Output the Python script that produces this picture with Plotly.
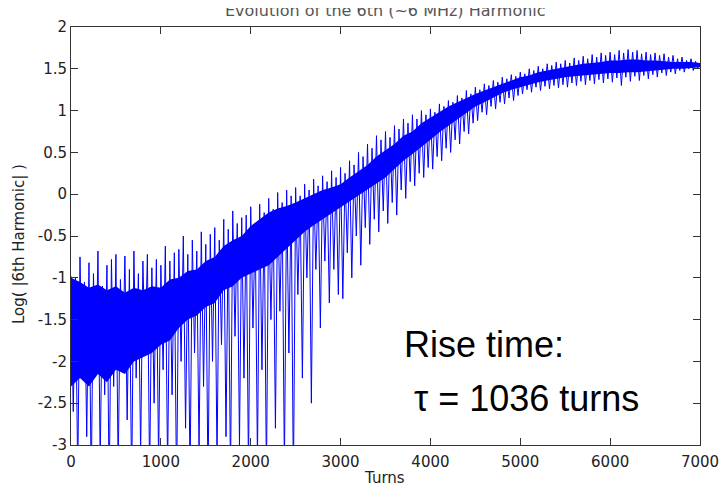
import numpy as np
import plotly.graph_objects as go

# Turn index sampled every 25 turns, 0..7000
turn_step = 25
turns = np.arange(0, 7001, turn_step)

# log10 |6th harmonic| (alternating crests / troughs)
log_amp = [
    # 0 - 475
    -0.98, -2.6, -1.0, -3.4, -0.75, -2.2, -1.05, -2.9, -0.82, -3.5,
    -0.95, -2.1, -0.68, -3.2, -1.1, -2.4, -0.85, -3.6, -0.78, -2.3,
    # 500 - 975
    -0.72, -3.3, -1.02, -2.0, -0.74, -2.7, -0.9, -3.5, -0.68, -2.2,
    -0.95, -3.1, -0.8, -1.9, -0.72, -3.4, -0.88, -2.5, -0.78, -3.2,
    # 1000 - 1475
    -0.85, -2.1, -0.62, -3.3, -0.8, -2.4, -0.7, -3.6, -0.66, -2.0,
    -0.5, -2.8, -0.72, -3.4, -0.55, -1.9, -0.68, -3.1, -0.45, -2.3,
    # 1500 - 1975
    -0.6, -3.5, -0.48, -2.0, -0.4, -3.2, -0.55, -1.8, -0.3, -2.9,
    -0.42, -3.4, -0.2, -1.7, -0.35, -3.0, -0.28, -2.2, -0.25, -3.3,
    # 2000 - 2475
    -0.15, -1.6, -0.35, -3.2, -0.12, -2.1, -0.22, -3.4, -0.05, -1.5,
    -0.18, -2.8, 0.02, -1.4, -0.1, -3.3, 0.05, -1.9, -0.02, -3.5,
    # 2500 - 2975
    0.08, -1.2, -0.02, -2.2, 0.12, -1.0, 0.05, -2.5, 0.18, -0.9,
    0.1, -1.6, 0.22, -0.8, 0.15, -1.3, 0.28, -0.9, 0.2, -1.2,
    # 3000 - 3475
    0.32, -1.25, 0.25, -0.7, 0.4, -1.0, 0.35, -0.5, 0.5, -0.85,
    0.45, -0.4, 0.6, -0.6, 0.55, -0.3, 0.7, -0.45, 0.65, -0.2,
    # 3500 - 3975
    0.75, -0.35, 0.68, -0.1, 0.82, -0.25, 0.78, 0.05, 0.9, -0.05,
    0.85, 0.15, 0.95, 0.1, 0.9, 0.25, 1.0, 0.2, 0.95, 0.32,
    # 4000 - 4475
    1.02, 0.3, 0.98, 0.45, 1.08, 0.4, 1.05, 0.55, 1.12, 0.5,
    1.1, 0.65, 1.18, 0.6, 1.15, 0.75, 1.24, 0.72, 1.2, 0.85,
    # 4500 - 4975
    1.28, 0.88, 1.25, 0.98, 1.32, 0.95, 1.3, 1.05, 1.36, 1.02,
    1.34, 1.1, 1.4, 1.08, 1.38, 1.15, 1.43, 1.12, 1.41, 1.18,
    # 5000 - 5475
    1.46, 1.2, 1.44, 1.25, 1.5, 1.22, 1.48, 1.28, 1.53, 1.24,
    1.5, 1.29, 1.56, 1.26, 1.54, 1.3, 1.58, 1.27, 1.56, 1.31,
    # 5500 - 5975
    1.6, 1.28, 1.57, 1.33, 1.63, 1.3, 1.6, 1.35, 1.65, 1.31,
    1.62, 1.36, 1.67, 1.32, 1.64, 1.37, 1.69, 1.33, 1.66, 1.38,
    # 6000 - 6475
    1.7, 1.34, 1.67, 1.39, 1.72, 1.3, 1.69, 1.4, 1.73, 1.35,
    1.7, 1.41, 1.72, 1.36, 1.68, 1.42, 1.7, 1.38, 1.67, 1.43,
    # 6500 - 6975
    1.69, 1.4, 1.66, 1.45, 1.68, 1.42, 1.64, 1.46, 1.66, 1.44,
    1.62, 1.48, 1.64, 1.46, 1.6, 1.5, 1.62, 1.48, 1.59, 1.51,
    # 7000
    1.56,
]

# Solid (densely oscillating) core of the trace, read every 100 turns
core_step = 100
core_turns = np.arange(0, 7001, core_step)
core_hi = [
    -1.0, -1.05, -1.12, -1.08, -1.15, -1.1, -1.18, -1.12, -1.15, -1.1,
    -1.12, -1.02, -1.0, -0.92, -0.9, -0.8, -0.75, -0.62, -0.55, -0.5,
    -0.38, -0.3, -0.22, -0.17, -0.14, -0.1, -0.05, 0.0, 0.05, 0.08,
    0.12, 0.2, 0.28, 0.35, 0.45, 0.52, 0.6, 0.7, 0.75, 0.85,
    0.92, 0.98, 1.05, 1.1, 1.15, 1.2, 1.24, 1.28, 1.32, 1.36,
    1.4, 1.42, 1.46, 1.48, 1.5, 1.52, 1.54, 1.56, 1.57, 1.58,
    1.6, 1.6, 1.61, 1.61, 1.6, 1.6, 1.59, 1.58, 1.58, 1.58,
    1.57,
]
core_lo = [
    -2.3, -2.2, -2.3, -2.15, -2.25, -2.1, -2.15, -2.0, -1.95, -1.9,
    -1.8, -1.75, -1.6, -1.5, -1.45, -1.35, -1.3, -1.15, -1.1, -1.0,
    -0.95, -0.9, -0.85, -0.75, -0.65, -0.55, -0.45, -0.37, -0.3, -0.22,
    -0.15, -0.08, -0.02, 0.05, 0.12, 0.2, 0.3, 0.4, 0.48, 0.56,
    0.65, 0.74, 0.82, 0.9, 0.98, 1.05, 1.1, 1.16, 1.21, 1.25,
    1.28, 1.31, 1.34, 1.36, 1.38, 1.4, 1.41, 1.42, 1.43, 1.44,
    1.45, 1.45, 1.46, 1.46, 1.47, 1.48, 1.49, 1.5, 1.5, 1.51,
    1.52,
]

x_ticks = [0, 1000, 2000, 3000, 4000, 5000, 6000, 7000]
x_tick_text = ["0", "1000", "2000", "3000", "4000", "5000", "6000", "7000"]
y_ticks = [2, 1.5, 1, 0.5, 0, -0.5, -1, -1.5, -2, -2.5, -3]
y_tick_text = ["2", "1.5", "1", "0.5", "0", "-0.5", "-1", "-1.5", "-2", "-2.5", "-3"]

title_text = "Evolution of the 6th (~6 MHz) Harmonic"
x_label = "Turns"
y_label = "Log( |6th Harmonic| )"
note_line1 = "Rise time:"
note_line2 = "τ = 1036 turns"

W, H = 720, 491
L, R, T, B = 71, 20, 27, 46
pw, ph = W - L - R, H - T - B


def px_x(p):  # page pixel -> paper x
    return (p - L) / pw


def px_y(p):  # page pixel -> paper y
    return (H - B - p) / ph


fig = go.Figure()
fig.add_trace(go.Scatter(
    x=core_turns, y=core_lo, mode="lines", line=dict(color="#0000ff", width=0),
    showlegend=False, hoverinfo="skip",
))
fig.add_trace(go.Scatter(
    x=core_turns, y=core_hi, mode="lines", line=dict(color="#0000ff", width=0),
    fill="tonexty", fillcolor="#0000ff", showlegend=False, hoverinfo="skip",
))
fig.add_trace(go.Scatter(
    x=turns, y=log_amp, mode="lines",
    line=dict(color="#0000ff", width=1),
    showlegend=False, hoverinfo="skip",
))

axis_common = dict(
    showgrid=False, zeroline=False, showline=True, linecolor="#333333",
    linewidth=1, mirror="ticks", ticks="inside", ticklen=7,
    tickcolor="#333333", tickwidth=1, ticklabeloverflow="allow",
    tickfont=dict(family="DejaVu Sans", size=15, color="#222222"),
)

fig.update_layout(
    width=W, height=H,
    margin=dict(l=L, r=R, t=T, b=B, autoexpand=False),
    paper_bgcolor="white", plot_bgcolor="white",
    xaxis=dict(range=[0, 7000], tickmode="array", tickvals=x_ticks,
               ticktext=x_tick_text, ticklabelstandoff=3, **axis_common),
    yaxis=dict(range=[-3, 2], tickmode="array", tickvals=y_ticks,
               ticktext=y_tick_text, ticklabelstandoff=0, **axis_common),
    annotations=[
        dict(text=title_text, xref="paper", yref="paper",
             x=px_x(385.5), y=px_y(10.5), xanchor="center", yanchor="middle",
             showarrow=False,
             font=dict(family="DejaVu Sans", size=16, color="#555555")),
        # white strip hiding the top of the title, as in the source image
        dict(text=" ", xref="paper", yref="paper",
             x=px_x(360), y=px_y(3.75), xanchor="center", yanchor="middle",
             width=740, height=7.5, borderpad=0, borderwidth=0,
             bgcolor="white", showarrow=False),
        dict(text=y_label, xref="paper", yref="paper",
             x=px_x(19), y=px_y(244), xanchor="center", yanchor="middle",
             textangle=-90, showarrow=False,
             font=dict(family="DejaVu Sans", size=15, color="#222222")),
        dict(text=x_label, xref="paper", yref="paper",
             x=px_x(384), y=px_y(478), xanchor="center", yanchor="middle",
             showarrow=False,
             font=dict(family="DejaVu Sans", size=15, color="#222222")),
        dict(text=note_line1, xref="paper", yref="paper",
             x=px_x(402), y=px_y(344), xanchor="left", yanchor="middle",
             showarrow=False,
             font=dict(family="Liberation Sans", size=36, color="black")),
        dict(text=note_line2, xref="paper", yref="paper",
             x=px_x(412), y=px_y(398), xanchor="left", yanchor="middle",
             showarrow=False,
             font=dict(family="Liberation Sans", size=36, color="black")),
    ],
)

fig.write_html("out.html",
               config={"displayModeBar": False},
               post_script="document.body.style.margin='0';"
                           "document.body.style.overflow='hidden';")
